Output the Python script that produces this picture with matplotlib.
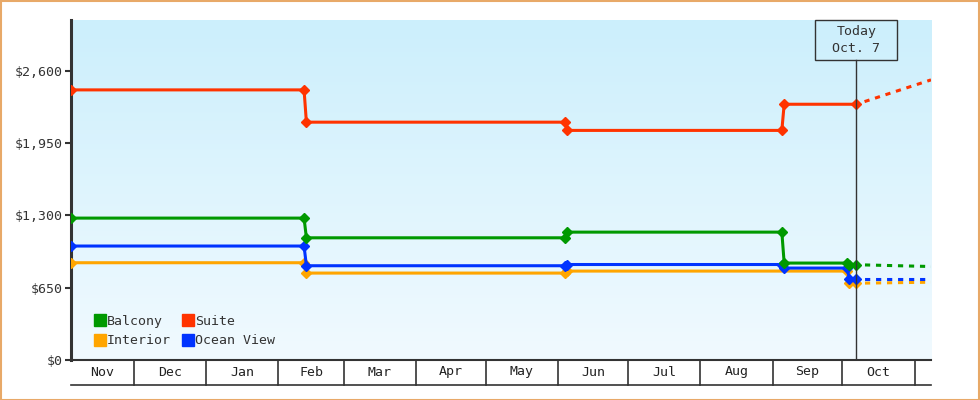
import matplotlib
matplotlib.use("Agg")
import matplotlib.pyplot as plt
import matplotlib.dates as mdates
from matplotlib.patches import Rectangle
from matplotlib.lines import Line2D
import numpy as np

plt.rcParams['font.family'] = ['DejaVu Sans Mono']

# ---------------- data ----------------
today = "2025-10-07"
forecast_end = "2025-11-08"
x_start = "2024-11-04"

balcony_dates = ["2024-11-04", "2025-02-12", "2025-02-13", "2025-06-04", "2025-06-05",
                 "2025-09-05", "2025-09-06", "2025-10-03", "2025-10-04", "2025-10-07"]
balcony_vals = [1275, 1275, 1098, 1098, 1149, 1149, 871, 871, 856, 856]
balcony_fc = [856, 840]

suite_dates = ["2024-11-04", "2025-02-12", "2025-02-13", "2025-06-04", "2025-06-05",
               "2025-09-05", "2025-09-06", "2025-10-07"]
suite_vals = [2427, 2427, 2137, 2137, 2063, 2063, 2298, 2298]
suite_fc = [2298, 2517]

interior_dates = ["2024-11-04", "2025-02-12", "2025-02-13", "2025-06-04", "2025-06-05",
                  "2025-10-03", "2025-10-04", "2025-10-07"]
interior_vals = [874, 874, 781, 781, 799, 799, 690, 690]
interior_fc = [690, 699]

ocean_dates = ["2024-11-04", "2025-02-12", "2025-02-13", "2025-06-04", "2025-06-05",
               "2025-09-05", "2025-09-06", "2025-10-03", "2025-10-04", "2025-10-07"]
ocean_vals = [1024, 1024, 847, 847, 858, 858, 826, 826, 727, 727]
ocean_fc = [727, 727]

y_ticks = [0, 650, 1300, 1950, 2600]
y_max = 3055

colors = {"Balcony": "#009900", "Suite": "#ff3300", "Interior": "#ffa500", "Ocean View": "#0033ff"}

# ---------------- figure ----------------
W, H = 980, 400
fig = plt.figure(figsize=(W / 100, H / 100), dpi=100)
fig.patch.set_facecolor("white")
ax = fig.add_axes([71 / W, 40 / H, (931 - 71) / W, (360 - 20) / H])
ax.set_facecolor("none")

def d(s):
    return mdates.datestr2num(s)

# gradient background
grad = np.linspace(0, 1, 256).reshape(-1, 1)
top = np.array([204, 239, 252]) / 255
bot = np.array([241, 250, 255]) / 255
img = top[None, None, :] * (1 - grad[:, :, None]) + bot[None, None, :] * grad[:, :, None]
ax.imshow(img, extent=[0, 1, 0, 1], transform=ax.transAxes, aspect='auto', zorder=0)

lw = 2.2
ms = 5.5
series = [
    ("Interior", interior_dates, interior_vals, interior_fc),
    ("Ocean View", ocean_dates, ocean_vals, ocean_fc),
    ("Balcony", balcony_dates, balcony_vals, balcony_fc),
    ("Suite", suite_dates, suite_vals, suite_fc),
]
for name, ds, vs, fc in series:
    c = colors[name]
    xs = [d(s) for s in ds]
    ax.plot(xs, vs, color=c, lw=lw, marker='D', ms=ms, mec=c, mfc=c, zorder=3,
            solid_joinstyle='round')
    ax.plot([d(today), d(forecast_end)], fc, color=c, lw=lw,
            linestyle=(0.8, (1.7, 1.9)), zorder=2, dash_capstyle='butt')

ax.set_xlim(d(x_start), d(forecast_end))
ax.set_ylim(0, y_max)

# axes styling
for s in ["top", "right"]:
    ax.spines[s].set_visible(False)
ax.spines["left"].set_color("#333333")
ax.spines["left"].set_linewidth(2.2)
ax.spines["bottom"].set_color("#333333")
ax.spines["bottom"].set_linewidth(1.5)
ax.set_yticks(y_ticks)
ax.set_yticklabels([f"${v:,}" for v in y_ticks])
ax.tick_params(axis='y', length=4, width=1.5, color="#333333", labelcolor="#333333",
               labelsize=9.5, pad=2)
ax.set_xticks([])

# month cells below the axis
trans = matplotlib.transforms.blended_transform_factory(ax.transData, ax.transAxes)
cell_h = 25 / 340
x0, x1 = d(x_start), d(forecast_end)
ax.plot([0, 1], [-cell_h, -cell_h], transform=ax.transAxes, color="#333333", lw=1.2,
        clip_on=False)
month_starts = []
y_, m_ = 2024, 12
while True:
    ms_ = d(f"{y_}-{m_:02d}-01")
    if ms_ >= x1:
        break
    month_starts.append(ms_)
    m_ += 1
    if m_ > 12:
        m_ = 1
        y_ += 1
for xm in month_starts:
    ax.plot([xm, xm], [0, -cell_h], transform=trans, color="#333333", lw=1.2, clip_on=False)
bounds = [x0] + month_starts + [x1]
for a, b in zip(bounds[:-1], bounds[1:]):
    if b - a >= 15:
        name = mdates.num2date(a).strftime("%b")
        ax.text((a + b) / 2, -12 / 340, name, transform=trans, ha='center', va='center',
                fontsize=9.5, color="#222222", clip_on=False)

# today marker
tx = d(today)
box_bottom = (360 - 60) / 340
ax.plot([tx, tx], [0, box_bottom], transform=trans, color="#333333", lw=1.0, zorder=4)
fig.canvas.draw()
px = ax.transData.transform((tx, 0))[0]
bw, bh = 82, 40
fig.patches.append(Rectangle(((px - bw / 2) / W, (H - 60) / H), bw / W, bh / H,
                             transform=fig.transFigure, facecolor="none",
                             edgecolor="#333333", lw=1.0, zorder=5))
fig.text(px / W, (H - 40) / H, "Today\nOct. 7", ha='center', va='center',
         fontsize=9.5, color="#333333", linespacing=1.35)

# legend
order = ["Balcony", "Interior", "Suite", "Ocean View"]
handles = [Line2D([], [], marker='s', linestyle='none', ms=8, color=colors[n]) for n in order]
leg = ax.legend(handles, order, ncol=2, loc='lower left', bbox_to_anchor=(0.015, 0.006),
                frameon=False, handlelength=0.8, handletextpad=0.15, columnspacing=0.9,
                labelspacing=0.5, fontsize=9.5, borderpad=0.3)
for t in leg.get_texts():
    t.set_color("#333333")

# orange border around figure
fig.patches.append(Rectangle((0.5 / W, 0.5 / H), (W - 1.5) / W, (H - 1.5) / H,
                             transform=fig.transFigure, facecolor="none",
                             edgecolor="#e8a968", lw=1.5, zorder=10))

fig.savefig("out.png", dpi=100)
